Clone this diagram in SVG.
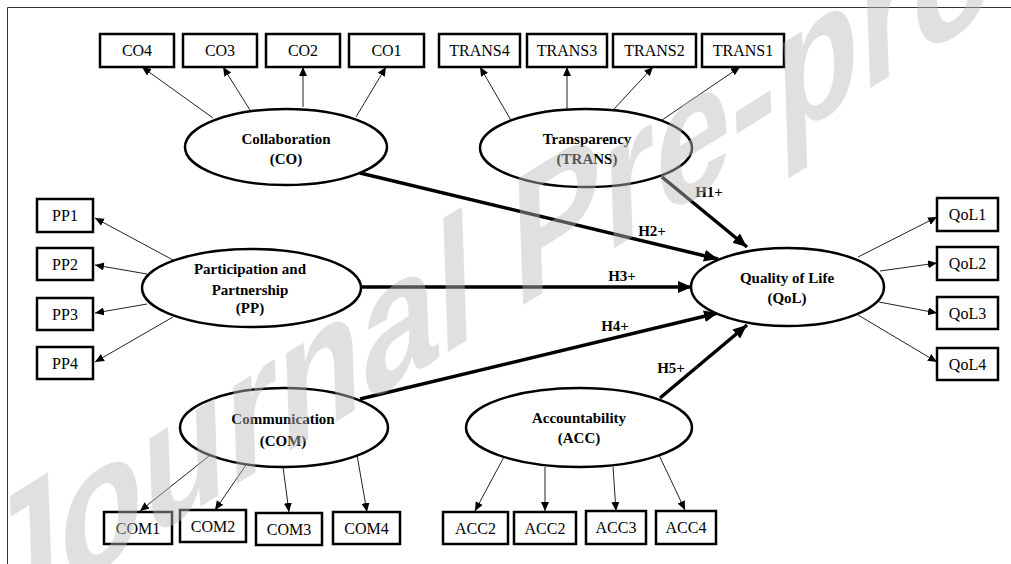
<svg xmlns="http://www.w3.org/2000/svg" width="1011" height="564" viewBox="0 0 1011 564">
<style>
.box{fill:#fff;stroke:#000;stroke-width:2.5}
.ell{fill:#fff;stroke:#000;stroke-width:2.5}
.lbl{font-family:"Liberation Serif","Times New Roman",serif;font-size:16px;fill:#000;text-anchor:middle}
.lat{font-family:"Liberation Serif","Times New Roman",serif;font-size:15px;font-weight:bold;fill:#000;text-anchor:middle}
.thin{stroke:#222;stroke-width:1;fill:none;marker-end:url(#ah)}
.thick{stroke:#000;stroke-width:3.5;fill:none;marker-end:url(#AH)}
.wm{font-family:"Liberation Sans",Arial,sans-serif;font-size:160px;font-weight:bold;fill:#bbb;fill-opacity:0.45}
</style>
<defs>
<marker id="ah" markerUnits="userSpaceOnUse" markerWidth="10" markerHeight="10" refX="9" refY="4" orient="auto"><path d="M0,0 L9,4 L0,8 Z" fill="#000"/></marker>
<marker id="AH" markerUnits="userSpaceOnUse" markerWidth="16" markerHeight="14" refX="14" refY="6" orient="auto"><path d="M0,0 L14,6 L0,12 Z" fill="#000"/></marker>
</defs>
<rect width="1011" height="564" fill="#fff"/>
<path d="M7.5,564 V7.5 H1011" fill="none" stroke="#333" stroke-width="1"/>
<g id="connectors">
<line class="thin" x1="213" y1="118" x2="142" y2="67"/>
<line class="thin" x1="250" y1="110" x2="223" y2="67"/>
<line class="thin" x1="303" y1="107" x2="303" y2="67"/>
<line class="thin" x1="356" y1="117" x2="386" y2="67"/>
<line class="thin" x1="512" y1="122" x2="480" y2="67"/>
<line class="thin" x1="567" y1="109" x2="567" y2="67"/>
<line class="thin" x1="614" y1="109" x2="653" y2="67"/>
<line class="thin" x1="662" y1="120" x2="740" y2="67"/>
<line class="thin" x1="173" y1="260" x2="95" y2="218"/>
<line class="thin" x1="147" y1="274" x2="95" y2="265"/>
<line class="thin" x1="147" y1="304" x2="95" y2="313"/>
<line class="thin" x1="173" y1="317" x2="95" y2="362"/>
<line class="thin" x1="858" y1="257" x2="937" y2="217"/>
<line class="thin" x1="880" y1="271" x2="937" y2="263"/>
<line class="thin" x1="879" y1="302" x2="937" y2="313"/>
<line class="thin" x1="858" y1="315" x2="937" y2="362"/>
<line class="thin" x1="209" y1="456" x2="140" y2="511"/>
<line class="thin" x1="246" y1="465" x2="215" y2="510"/>
<line class="thin" x1="283" y1="467" x2="289" y2="512"/>
<line class="thin" x1="357" y1="455" x2="367" y2="512"/>
<line class="thin" x1="505" y1="455" x2="475" y2="511"/>
<line class="thin" x1="545" y1="467" x2="545" y2="511"/>
<line class="thin" x1="613" y1="467" x2="616" y2="511"/>
<line class="thin" x1="659" y1="455" x2="685" y2="510"/>
<line class="thick" x1="662" y1="177" x2="747" y2="247"/>
<line class="thick" x1="360" y1="173" x2="718" y2="259"/>
<line class="thick" x1="362" y1="287" x2="692" y2="287"/>
<line class="thick" x1="360" y1="399" x2="718" y2="313"/>
<line class="thick" x1="660" y1="398" x2="747" y2="325"/>
<text class="lat" x="709" y="197">H1+</text>
<text class="lat" x="652" y="236">H2+</text>
<text class="lat" x="622" y="281">H3+</text>
<text class="lat" x="615" y="331">H4+</text>
<text class="lat" x="671" y="373">H5+</text>
</g>
<g id="CO"><ellipse class="ell" cx="286" cy="147" rx="101" ry="38"/><text class="lat" x="286" y="144">Collaboration</text><text class="lat" x="286" y="164">(CO)</text></g>
<g id="TRANS"><ellipse class="ell" cx="586" cy="148" rx="106" ry="39"/><text class="lat" x="587" y="144">Transparency</text><text class="lat" x="587" y="164">(TRANS)</text></g>
<g id="PP"><ellipse class="ell" cx="251.5" cy="288" rx="109.5" ry="39"/><text class="lat" x="250" y="274">Participation  and</text><text class="lat" x="250" y="295">Partnership</text><text class="lat" x="250" y="313">(PP)</text></g>
<g id="QoL"><ellipse class="ell" cx="787.5" cy="287" rx="96.5" ry="39"/><text class="lat" x="787" y="283">Quality of Life</text><text class="lat" x="787" y="303">(QoL)</text></g>
<g id="COM"><ellipse class="ell" cx="284" cy="427.5" rx="104" ry="39.5"/><text class="lat" x="283" y="424">Communication</text><text class="lat" x="283" y="446">(COM)</text></g>
<g id="ACC"><ellipse class="ell" cx="579" cy="427.5" rx="113" ry="39.5"/><text class="lat" x="579" y="423">Accountability</text><text class="lat" x="579" y="443">(ACC)</text></g>
<g id="CO4"><rect class="box" x="100" y="34" width="74" height="33"/><text class="lbl" x="137" y="56">CO4</text></g>
<g id="CO3"><rect class="box" x="183" y="34" width="74" height="33"/><text class="lbl" x="220" y="56">CO3</text></g>
<g id="CO2"><rect class="box" x="266" y="34" width="74" height="33"/><text class="lbl" x="303" y="56">CO2</text></g>
<g id="CO1"><rect class="box" x="349" y="34" width="75" height="33"/><text class="lbl" x="386.5" y="56">CO1</text></g>
<g id="TRANS4"><rect class="box" x="439" y="34" width="81" height="33"/><text class="lbl" x="479.5" y="56">TRANS4</text></g>
<g id="TRANS3"><rect class="box" x="527" y="34" width="80" height="33"/><text class="lbl" x="567" y="56">TRANS3</text></g>
<g id="TRANS2"><rect class="box" x="613" y="34" width="83" height="33"/><text class="lbl" x="654.5" y="56">TRANS2</text></g>
<g id="TRANS1"><rect class="box" x="702" y="34" width="82" height="33"/><text class="lbl" x="743" y="56">TRANS1</text></g>
<g id="PP1"><rect class="box" x="37" y="199" width="56" height="33"/><text class="lbl" x="65" y="221">PP1</text></g>
<g id="PP2"><rect class="box" x="37" y="248" width="56" height="32"/><text class="lbl" x="65" y="269.5">PP2</text></g>
<g id="PP3"><rect class="box" x="37" y="298" width="56" height="32"/><text class="lbl" x="65" y="319.5">PP3</text></g>
<g id="PP4"><rect class="box" x="37" y="347" width="56" height="32"/><text class="lbl" x="65" y="368.5">PP4</text></g>
<g id="QoL1"><rect class="box" x="937" y="198" width="61" height="33"/><text class="lbl" x="967.5" y="220">QoL1</text></g>
<g id="QoL2"><rect class="box" x="937" y="247" width="61" height="33"/><text class="lbl" x="967.5" y="269">QoL2</text></g>
<g id="QoL3"><rect class="box" x="937" y="297" width="61" height="32"/><text class="lbl" x="967.5" y="318.5">QoL3</text></g>
<g id="QoL4"><rect class="box" x="937" y="348" width="61" height="32"/><text class="lbl" x="967.5" y="369.5">QoL4</text></g>
<g id="COM1"><rect class="box" x="104" y="512" width="68" height="32"/><text class="lbl" x="138" y="533.5">COM1</text></g>
<g id="COM2"><rect class="box" x="180" y="510" width="66" height="32"/><text class="lbl" x="213" y="531.5">COM2</text></g>
<g id="COM3"><rect class="box" x="256" y="513" width="66" height="32"/><text class="lbl" x="289" y="534.5">COM3</text></g>
<g id="COM4"><rect class="box" x="333" y="512" width="67" height="32"/><text class="lbl" x="366.5" y="533.5">COM4</text></g>
<g id="ACC2a"><rect class="box" x="443" y="512" width="65" height="32"/><text class="lbl" x="475.5" y="533.5">ACC2</text></g>
<g id="ACC2b"><rect class="box" x="514" y="512" width="62" height="32"/><text class="lbl" x="545" y="533.5">ACC2</text></g>
<g id="ACC3"><rect class="box" x="586" y="511" width="60" height="33"/><text class="lbl" x="616" y="533">ACC3</text></g>
<g id="ACC4"><rect class="box" x="656" y="511" width="60" height="33"/><text class="lbl" x="686" y="533">ACC4</text></g>
<text class="wm" x="-620" y="0" transform="translate(512,312) rotate(-32) skewX(-30)">Journal Pre-proof</text>
</svg>
